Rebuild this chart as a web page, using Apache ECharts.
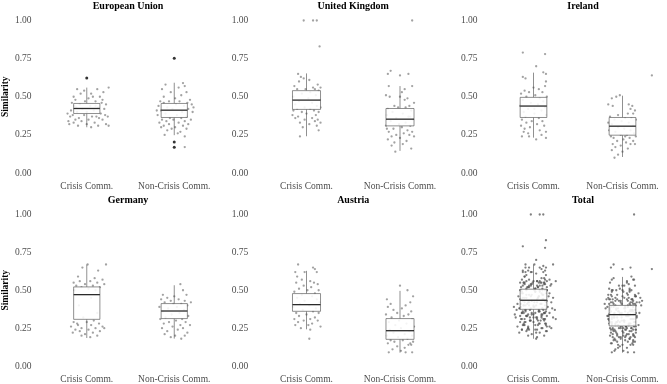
<!DOCTYPE html>
<html>
<head>
<meta charset="utf-8">
<script src="https://cdn.jsdelivr.net/npm/echarts@6/dist/echarts.min.js"></script>
<style>
  html, body { margin: 0; padding: 0; background: #fff; }
  #chart { width: 667px; height: 384px; }
</style>
</head>
<body>
<div id="chart"></div>
<script>
/** facet titles and the two groups on each x axis */
const panelNames = ["European Union", "United Kingdom", "Ireland", "Germany", "Austria", "Total"];
const groups = ["Crisis Comm.", "Non-Crisis Comm."];
const yTicks = [0, 0.25, 0.5, 0.75, 1];

/** box stats per panel: [lower whisker, Q1, median, Q3, upper whisker] for crisis / non-crisis */
const boxEU = [[0.30, 0.39, 0.423, 0.456, 0.56], [0.248, 0.364, 0.412, 0.456, 0.592]];
const boxUK = [[0.241, 0.417, 0.478, 0.54, 0.653], [0.145, 0.309, 0.353, 0.423, 0.57]];
const boxIE = [[0.232, 0.364, 0.439, 0.496, 0.658], [0.105, 0.248, 0.307, 0.364, 0.507]];
const boxDE = [[0.185, 0.308, 0.471, 0.522, 0.67], [0.181, 0.313, 0.363, 0.412, 0.533]];
const boxAT = [[0.242, 0.361, 0.405, 0.478, 0.628], [0.088, 0.176, 0.233, 0.313, 0.496]];
const boxTotal = [[0.18, 0.374, 0.434, 0.507, 0.67], [0.088, 0.264, 0.339, 0.40, 0.588]];

/** boxplot outliers (EU only): [group index, value] */
const outliersEU = [[0, 0.623], [1, 0.752], [1, 0.204], [1, 0.169]];

/** jittered observations: [jitter, similarity] */
const euCrisis = [[-0.11,0.55],[-0.03,0.54],[0.05,0.52],[0.12,0.55],[0.25,0.56],[-0.07,0.52],[0.07,0.50],[0.15,0.50],[-0.15,0.50],[0.19,0.53],[0.02,0.49],[-0.13,0.48],[-0.02,0.47],[0.10,0.47],[0.17,0.46],[-0.17,0.46],[0.22,0.45],[-0.08,0.45],[0.04,0.44],[-0.14,0.44],[0.13,0.43],[-0.05,0.42],[0.20,0.42],[-0.18,0.41],[0.08,0.41],[0.00,0.40],[-0.11,0.40],[0.16,0.39],[-0.16,0.38],[0.21,0.38],[-0.03,0.38],[0.06,0.37],[-0.19,0.37],[0.11,0.37],[0.24,0.37],[-0.09,0.36],[0.14,0.36],[-0.13,0.35],[0.02,0.35],[0.18,0.35],[-0.21,0.34],[-0.06,0.34],[0.09,0.33],[-0.15,0.33],[0.22,0.32],[-0.20,0.32],[0.00,0.32],[0.13,0.31],[-0.10,0.31],[0.25,0.31],[0.05,0.30],[-0.12,0.43],[0.18,0.48],[-0.22,0.39],[0.10,0.44]];
const euNonCrisis = [[0.10,0.59],[-0.10,0.58],[-0.14,0.55],[0.05,0.56],[0.12,0.57],[0.14,0.53],[-0.04,0.53],[0.08,0.51],[-0.12,0.50],[0.01,0.49],[0.18,0.48],[-0.16,0.47],[-0.06,0.47],[0.06,0.47],[0.15,0.46],[-0.12,0.46],[0.20,0.45],[0.02,0.45],[-0.18,0.44],[0.11,0.44],[-0.08,0.43],[0.16,0.42],[-0.02,0.42],[-0.15,0.41],[0.09,0.40],[0.21,0.40],[-0.10,0.39],[0.03,0.38],[-0.19,0.38],[0.14,0.37],[-0.05,0.36],[0.08,0.36],[-0.14,0.35],[0.19,0.35],[-0.01,0.35],[-0.09,0.34],[0.12,0.34],[-0.17,0.33],[0.05,0.33],[0.16,0.32],[-0.06,0.32],[-0.12,0.31],[0.10,0.31],[0.01,0.30],[-0.03,0.29],[0.14,0.29],[-0.08,0.28],[0.07,0.27],[-0.11,0.25],[0.04,0.26],[0.12,0.24],[0.12,0.17],[-0.15,0.30],[0.22,0.43],[-0.20,0.41]];
const ukCrisis = [[-0.03,1.00],[0.07,1.00],[0.11,1.00],[0.14,0.83],[-0.09,0.65],[-0.06,0.63],[-0.03,0.62],[0.03,0.61],[-0.08,0.60],[0.12,0.58],[-0.13,0.57],[0.07,0.56],[0.15,0.56],[-0.01,0.55],[0.09,0.55],[-0.10,0.55],[0.13,0.54],[0.04,0.53],[-0.05,0.52],[0.10,0.51],[-0.14,0.50],[0.02,0.49],[0.14,0.48],[-0.08,0.47],[0.06,0.46],[-0.12,0.45],[0.11,0.44],[-0.02,0.43],[0.15,0.43],[-0.10,0.42],[0.04,0.42],[-0.14,0.41],[0.08,0.41],[-0.05,0.40],[0.13,0.40],[0.00,0.39],[-0.15,0.38],[0.10,0.38],[-0.09,0.37],[0.06,0.36],[-0.12,0.36],[0.12,0.35],[-0.02,0.35],[0.09,0.34],[-0.07,0.33],[0.15,0.33],[0.03,0.32],[0.11,0.31],[-0.04,0.30],[0.13,0.28],[-0.07,0.24]];
const ukNonCrisis = [[0.13,1.00],[-0.10,0.67],[-0.13,0.65],[0.09,0.65],[0.00,0.64],[-0.12,0.57],[0.13,0.57],[0.05,0.55],[0.02,0.53],[-0.15,0.51],[0.00,0.50],[-0.11,0.50],[0.08,0.49],[0.05,0.48],[0.15,0.46],[-0.06,0.44],[0.10,0.44],[-0.02,0.43],[0.06,0.43],[-0.13,0.42],[0.12,0.41],[-0.08,0.40],[0.03,0.39],[-0.14,0.38],[0.09,0.37],[-0.04,0.36],[0.14,0.35],[-0.10,0.34],[0.06,0.33],[-0.01,0.32],[-0.15,0.31],[0.11,0.31],[0.02,0.30],[-0.07,0.29],[0.08,0.28],[-0.12,0.27],[0.13,0.27],[0.04,0.26],[-0.04,0.25],[0.10,0.25],[-0.09,0.24],[0.15,0.24],[0.00,0.23],[-0.13,0.22],[0.07,0.21],[-0.06,0.20],[0.03,0.19],[-0.09,0.18],[0.12,0.16],[-0.05,0.14],[-0.14,0.29],[0.11,0.37]];
const ieCrisis = [[-0.12,0.79],[0.13,0.78],[0.03,0.70],[0.11,0.66],[0.14,0.65],[-0.12,0.63],[-0.09,0.62],[0.14,0.60],[0.13,0.57],[0.00,0.56],[-0.10,0.54],[0.06,0.55],[-0.05,0.53],[0.10,0.53],[-0.14,0.52],[0.02,0.51],[0.15,0.50],[-0.08,0.50],[0.07,0.49],[-0.12,0.48],[0.11,0.47],[-0.03,0.46],[0.05,0.45],[-0.15,0.44],[0.13,0.43],[-0.06,0.42],[0.09,0.41],[-0.11,0.40],[0.01,0.39],[0.14,0.38],[-0.09,0.37],[0.06,0.36],[-0.13,0.35],[-0.02,0.34],[0.10,0.34],[-0.08,0.33],[0.04,0.32],[-0.14,0.31],[0.12,0.31],[-0.04,0.30],[-0.10,0.29],[0.07,0.28],[-0.11,0.27],[0.14,0.27],[-0.06,0.26],[0.09,0.25],[-0.13,0.24],[0.14,0.23],[0.03,0.22],[-0.05,0.24],[0.01,0.42]];
const ieNonCrisis = [[0.33,0.64],[-0.03,0.51],[-0.07,0.50],[-0.12,0.49],[-0.16,0.45],[-0.11,0.44],[0.07,0.45],[0.11,0.44],[0.09,0.42],[0.14,0.41],[0.12,0.39],[0.06,0.39],[-0.05,0.38],[-0.14,0.37],[0.03,0.36],[0.10,0.36],[-0.09,0.35],[0.15,0.35],[-0.01,0.34],[0.07,0.33],[-0.12,0.32],[0.12,0.31],[-0.05,0.30],[0.02,0.29],[-0.15,0.28],[0.09,0.28],[-0.08,0.27],[0.13,0.26],[-0.02,0.25],[0.05,0.25],[-0.13,0.24],[0.15,0.24],[-0.10,0.23],[0.08,0.23],[0.01,0.22],[0.12,0.21],[-0.06,0.21],[0.04,0.20],[-0.11,0.19],[0.09,0.19],[-0.02,0.18],[0.14,0.19],[-0.08,0.17],[0.06,0.16],[-0.12,0.15],[0.00,0.14],[-0.05,0.12],[-0.09,0.10],[0.03,0.24],[-0.16,0.33]];
const deCrisis = [[0.01,0.67],[0.22,0.67],[-0.05,0.65],[0.13,0.63],[-0.10,0.59],[0.09,0.58],[0.18,0.57],[-0.08,0.56],[0.04,0.56],[-0.15,0.55],[0.12,0.55],[-0.02,0.54],[0.20,0.54],[0.07,0.53],[-0.12,0.53],[0.15,0.52],[-0.06,0.52],[0.02,0.51],[-0.14,0.50],[0.10,0.50],[0.05,0.45],[-0.09,0.40],[0.12,0.35],[-0.04,0.32],[0.08,0.30],[-0.15,0.29],[0.00,0.29],[0.14,0.28],[-0.10,0.27],[0.05,0.27],[-0.18,0.26],[0.18,0.26],[-0.06,0.25],[0.10,0.25],[-0.13,0.24],[0.02,0.24],[0.15,0.23],[-0.08,0.23],[0.07,0.22],[-0.16,0.22],[-0.02,0.21],[0.12,0.20],[0.04,0.19],[-0.06,0.20],[0.20,0.25],[-0.11,0.28]];
const deNonCrisis = [[0.07,0.54],[0.10,0.50],[-0.13,0.47],[0.14,0.47],[0.00,0.46],[-0.08,0.45],[-0.15,0.44],[0.05,0.44],[0.12,0.43],[-0.04,0.43],[0.19,0.42],[-0.11,0.42],[0.08,0.41],[-0.01,0.41],[0.15,0.40],[-0.17,0.39],[0.03,0.39],[-0.07,0.38],[0.11,0.37],[-0.13,0.36],[0.06,0.35],[-0.03,0.34],[0.16,0.33],[-0.10,0.32],[0.09,0.31],[-0.16,0.31],[0.02,0.30],[0.13,0.29],[-0.06,0.29],[-0.12,0.28],[0.07,0.27],[0.18,0.27],[-0.02,0.26],[-0.14,0.25],[0.10,0.25],[0.04,0.24],[-0.08,0.23],[0.15,0.22],[-0.11,0.21],[0.01,0.20],[0.12,0.20],[0.08,0.18],[-0.04,0.19]];
const atCrisis = [[-0.09,0.67],[0.07,0.65],[0.09,0.64],[-0.12,0.62],[-0.02,0.62],[0.11,0.62],[-0.10,0.59],[-0.05,0.57],[0.04,0.56],[0.08,0.55],[-0.11,0.55],[0.12,0.54],[-0.03,0.53],[0.05,0.52],[-0.08,0.51],[0.13,0.50],[0.01,0.50],[-0.13,0.49],[0.09,0.48],[-0.05,0.47],[0.06,0.46],[-0.10,0.45],[0.11,0.44],[-0.02,0.43],[0.14,0.42],[-0.07,0.41],[0.03,0.40],[-0.14,0.39],[0.10,0.38],[-0.04,0.37],[0.07,0.36],[-0.11,0.35],[0.13,0.35],[0.00,0.34],[-0.08,0.33],[0.09,0.32],[-0.13,0.31],[0.04,0.31],[-0.03,0.30],[0.12,0.30],[-0.09,0.29],[0.06,0.28],[-0.12,0.27],[0.02,0.27],[0.15,0.26],[-0.06,0.25],[0.04,0.24],[0.03,0.18]];
const atNonCrisis = [[0.00,0.53],[0.08,0.50],[0.14,0.46],[-0.14,0.44],[0.11,0.42],[-0.10,0.41],[0.06,0.40],[-0.13,0.39],[0.02,0.38],[-0.07,0.37],[0.12,0.36],[-0.03,0.35],[0.09,0.34],[-0.15,0.34],[0.04,0.33],[-0.09,0.32],[0.13,0.31],[-0.01,0.30],[-0.12,0.29],[0.07,0.28],[-0.05,0.27],[0.15,0.26],[0.01,0.25],[-0.11,0.24],[0.10,0.23],[-0.07,0.22],[0.05,0.21],[-0.14,0.20],[0.13,0.20],[-0.02,0.19],[0.08,0.18],[-0.10,0.17],[0.03,0.17],[0.14,0.16],[-0.06,0.16],[0.11,0.15],[-0.13,0.15],[0.09,0.14],[0.12,0.14],[-0.03,0.13],[0.05,0.12],[-0.08,0.11],[0.01,0.10],[-0.12,0.09],[0.13,0.09],[0.06,0.09]];

/** total = all countries pooled */
const totalCrisis = [].concat(euCrisis, ukCrisis, ieCrisis, deCrisis, atCrisis);
const totalNonCrisis = [].concat(euNonCrisis, ukNonCrisis, ieNonCrisis, deNonCrisis, atNonCrisis);

const panels = [
  { box: boxEU, pts: [euCrisis, euNonCrisis], out: outliersEU },
  { box: boxUK, pts: [ukCrisis, ukNonCrisis], out: [] },
  { box: boxIE, pts: [ieCrisis, ieNonCrisis], out: [] },
  { box: boxDE, pts: [deCrisis, deNonCrisis], out: [] },
  { box: boxAT, pts: [atCrisis, atNonCrisis], out: [] },
  { box: boxTotal, pts: [totalCrisis, totalNonCrisis], out: [] },
];

/** layout of the 3x2 facets (px) */
const cols = [{ left: 38, width: 180 }, { left: 259.75, width: 187 }, { left: 489, width: 188 }];
const rows = [{ top: 20.5, height: 152.5 }, { top: 214.5, height: 152 }];

const font = "'Liberation Serif', 'Times New Roman', serif";
const labelGrey = "#4d4d4d";

/** draw one ggplot-style box: whiskers, box, fat median */
const renderBox = (params, api) => {
  const x = api.value(0);
  const lo = api.coord([x, api.value(1)]);
  const q1 = api.coord([x, api.value(2)]);
  const md = api.coord([x, api.value(3)]);
  const q3 = api.coord([x, api.value(4)]);
  const hi = api.coord([x, api.value(5)]);
  const half = api.size([0.3, 0])[0] / 2;
  const thin = { stroke: "#444", lineWidth: 0.6 };
  return {
    type: "group",
    children: [
      { type: "line", shape: { x1: lo[0], y1: lo[1], x2: q1[0], y2: q1[1] }, style: thin },
      { type: "line", shape: { x1: q3[0], y1: q3[1], x2: hi[0], y2: hi[1] }, style: thin },
      {
        type: "rect",
        shape: { x: q3[0] - half, y: q3[1], width: half * 2, height: q1[1] - q3[1] },
        style: { fill: "rgba(255,255,255,0.88)", stroke: "#444", lineWidth: 0.6 },
      },
      { type: "line", shape: { x1: md[0] - half, y1: md[1], x2: md[0] + half, y2: md[1] }, style: { stroke: "#2a2a2a", lineWidth: 1.3 } },
    ],
  };
};

const grid = [], xAxis = [], yAxis = [], series = [], title = [];

panels.forEach((p, i) => {
  const c = cols[i % 3], r = rows[Math.floor(i / 3)];
  grid.push({ left: c.left, top: r.top, width: c.width, height: r.height });

  title.push({
    text: panelNames[i],
    left: c.left + c.width / 2,
    top: r.top - 19.5,
    textAlign: "center",
    padding: 0,
    textStyle: { fontFamily: font, fontSize: 10, fontWeight: "bold", color: "#000" },
  });

  /** visible category axis for the labels */
  xAxis.push({
    type: "category",
    gridIndex: i,
    data: groups,
    boundaryGap: true,
    axisLine: { show: false },
    axisTick: { show: false },
    splitLine: { show: false },
    axisLabel: { interval: 0, margin: 8, fontFamily: font, fontSize: 9.5, color: labelGrey },
  });
  /** hidden numeric axis for jittered points and boxes */
  xAxis.push({ type: "value", gridIndex: i, min: 0.5, max: 2.5, show: false });

  yAxis.push({
    type: "value",
    gridIndex: i,
    min: 0,
    max: 1,
    interval: 0.25,
    axisLine: { show: false },
    axisTick: { show: false },
    splitLine: { show: false },
    axisLabel: { margin: 11.5, fontFamily: font, fontSize: 9.5, color: labelGrey, formatter: (v) => v.toFixed(2) },
    name: i % 3 === 0 ? "Similarity" : "",
    nameLocation: "middle",
    nameGap: 28,
    nameTextStyle: { fontFamily: font, fontSize: 9.5, fontWeight: "bold", color: "#000" },
  });

  const pts = [];
  p.pts.forEach((arr, g) => arr.forEach((d) => pts.push([g + 1 + d[0], d[1]])));

  series.push({
    type: "scatter",
    xAxisIndex: i * 2 + 1,
    yAxisIndex: i,
    data: pts,
    symbolSize: 2.3,
    clip: false,
    silent: true,
    z: 2,
    itemStyle: { color: "#555", opacity: i === 5 ? 0.75 : 0.55 },
  });

  series.push({
    type: "custom",
    xAxisIndex: i * 2 + 1,
    yAxisIndex: i,
    renderItem: renderBox,
    encode: { x: 0, y: [1, 2, 3, 4, 5] },
    data: p.box.map((b, g) => [g + 1].concat(b)),
    silent: true,
    z: 4,
  });

  if (p.out.length) {
    series.push({
      type: "scatter",
      xAxisIndex: i * 2 + 1,
      yAxisIndex: i,
      data: p.out.map((o) => [o[0] + 1, o[1]]),
      symbolSize: 3,
      clip: false,
      silent: true,
      z: 5,
      itemStyle: { color: "#000" },
    });
  }
});

const chart = echarts.init(document.getElementById("chart"), null, { renderer: "canvas" });
chart.setOption({ animation: false, backgroundColor: "#fff", title, grid, xAxis, yAxis, series });
</script>
</body>
</html>
